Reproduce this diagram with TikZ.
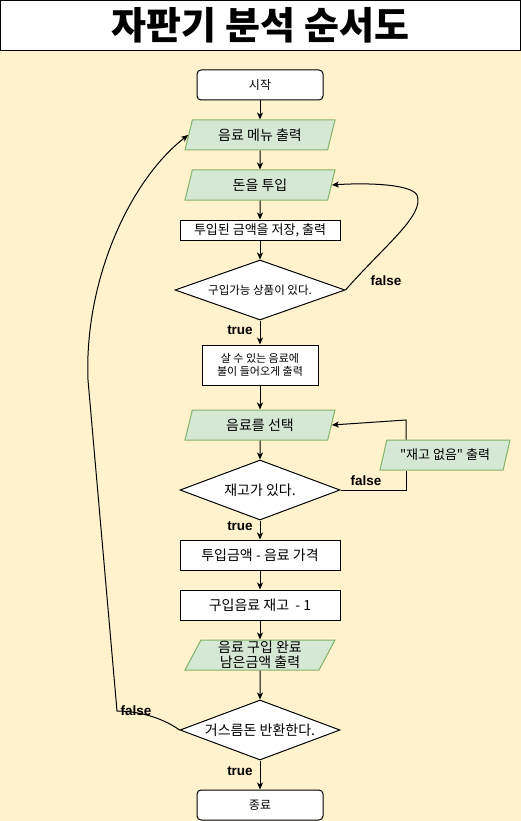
\documentclass[tikz,border=0pt]{standalone}
\usepackage{fontspec}
\setmainfont{Noto Sans CJK KR}
\newfontfamily\lblfont{Liberation Sans}
\usepackage{xcolor}
\usetikzlibrary{shapes.geometric, arrows.meta, positioning, calc}
\definecolor{bgyellow}{HTML}{FFF2CC}
\definecolor{iofill}{HTML}{D5E8D4}
\definecolor{ioline}{HTML}{82B366}

\begin{document}
\begin{tikzpicture}[x=1pt, y=-1pt, line width=1pt,
    arr/.style={-{Stealth[length=7pt, width=6pt, inset=2pt]}},
    proc/.style={draw, fill=white, minimum width=160pt, minimum height=30pt, inner sep=1pt, align=center, font=\fontsize{14}{15}\selectfont},
    term/.style={proc, rounded corners=4pt, minimum width=126pt, font=\fontsize{12}{14}\selectfont},
    io/.style={trapezium, trapezium left angle=60, trapezium right angle=120, trapezium stretches body, draw=ioline, fill=iofill, minimum width=150pt, minimum height=30pt, inner sep=0pt, align=center, font=\fontsize{14}{15}\selectfont},
    cond/.style={diamond, draw, fill=white, minimum width=160pt, minimum height=60pt, aspect=2.7, inner sep=0pt, font=\fontsize{14}{15}\selectfont},
    lbl/.style={font=\lblfont\bfseries\fontsize{13.5}{15}\selectfont}]
\useasboundingbox (0,0) rectangle (521,821);

% Background and title
\fill[bgyellow] (0,50) rectangle (521,821);
\node[draw, fill=white, minimum width=520pt, minimum height=50pt, inner sep=0pt, font=\bfseries\fontsize{38}{42}\selectfont] (title) at (260.5,25.5) {자판기 분석 순서도};

% Boxes
\node[term] (start) at (260,85) {시작};
\node[io] (menu) at (260,135) {음료 메뉴 출력};
\node[io] (money) at (260,185) {돈을 투입};
\node[proc, minimum height=20pt, font=\fontsize{13}{15}\selectfont] (save) at (260,230) {투입된 금액을 저장, 출력};
\node[cond, minimum width=170pt, aspect=2.8, font=\fontsize{11.5}{13}\selectfont] (canbuy) at (260,290) {구입가능 상품이 있다.};
\node[proc, minimum width=116pt, minimum height=40pt, font=\fontsize{11}{13}\selectfont] (light) at (260,365) {살 수 있는 음료에\\불이 들어오게 출력};
\node[io] (select) at (260,425) {음료를 선택};
\node[cond] (instock) at (260,490) {재고가 있다.};
\node[io, minimum width=130pt, font=\fontsize{13}{15}\selectfont] (nostock) at (445,455) {\textquotedbl 재고 없음\textquotedbl{} 출력};
\node[proc] (pay) at (260,555) {투입금액 - 음료 가격};
\node[proc] (stock) at (260,605) {구입음료 재고 \ - 1};
\node[io] (done) at (260,655) {음료 구입 완료\\남은금액 출력};
\node[cond] (change) at (260,730) {거스름돈 반환한다.};
\node[term] (stop) at (260,805) {종료};

% Main flow
\draw[arr] (start) -- (menu);
\draw[arr] (menu) -- (money);
\draw[arr] (money) -- (save);
\draw[arr] (save) -- (canbuy);
\draw[arr] (canbuy) -- (light);
\draw[arr] (light) -- (select);
\draw[arr] (select) -- (instock);
\draw[arr] (instock) -- (pay);
\draw[arr] (pay) -- (stock);
\draw[arr] (stock) -- (done);
\draw[arr] (done) -- (change);
\draw[arr] (change) -- (stop);

% Loops
\draw[arr] (canbuy.east) .. controls (385,245) and (425,215) .. (417,195)
    .. controls (410,183) and (360,183) .. (money.east);
\coordinate (nsx) at (406,0);
\coordinate (bend) at (406,420);
\draw (instock.east) -| (nsx |- nostock.south);
\draw[arr] (nsx |- nostock.north) -- (bend) -- (select.east);
\draw[arr] (change.west) .. controls (160,716) and (135,711) .. (117,711)
    -- (88,380) .. controls (84,280) and (130,180) .. (menu.west);

% Labels
\node[lbl] (f1) at (386,281) {false};
\node[lbl] (t1) at (240,330) {true};
\node[lbl] (f2) at (366,481) {false};
\node[lbl] (t2) at (240,526) {true};
\node[lbl] (f3) at (136,711) {false};
\node[lbl] (t3) at (240,771) {true};
\end{tikzpicture}
\end{document}
